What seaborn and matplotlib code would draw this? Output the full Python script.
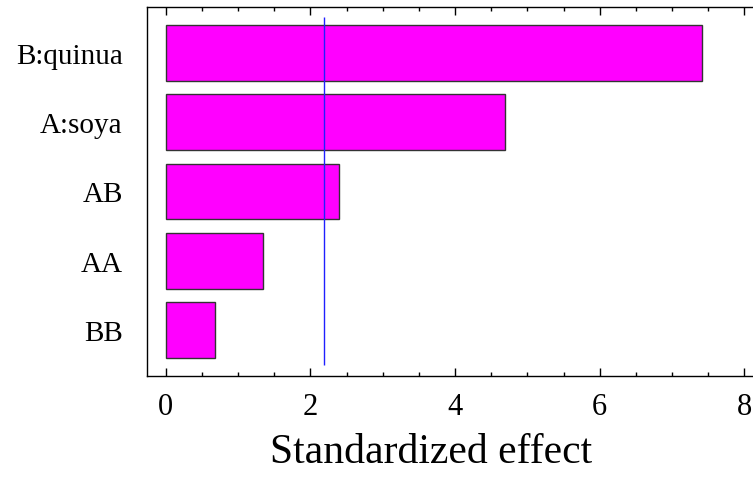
import matplotlib.pyplot as plt
import pandas as pd
import seaborn as sns
from matplotlib.ticker import MultipleLocator

terms = ["B:quinua", "A:soya", "AB", "AA", "BB"]
effects = [7.42, 4.69, 2.40, 1.34, 0.68]
critical_value = 2.19
x_ticks = [0, 2, 4, 6, 8]


def main():
    sns.set_style("white")
    plt.rcParams["font.family"] = ["Liberation Serif", "DejaVu Serif"]
    plt.rcParams["text.color"] = "black"
    plt.rcParams["axes.labelcolor"] = "black"
    plt.rcParams["xtick.color"] = "black"
    plt.rcParams["ytick.color"] = "black"

    df = pd.DataFrame({"Term": terms, "Effect": effects})

    fig = plt.figure(figsize=(7.53, 4.81), dpi=100)
    ax = fig.add_axes([147 / 753, 1 - 377 / 481, 1 - 147 / 753, (377 - 8) / 481])

    sns.barplot(
        data=df,
        x="Effect",
        y="Term",
        orient="h",
        color="#ff00ff",
        saturation=1,
        width=0.8,
        edgecolor="#333333",
        linewidth=1,
        ax=ax,
    )
    ax.vlines(critical_value, -0.52, 4.5, color="#2020ff", linewidth=1, zorder=3)

    ax.set_xlim(-0.26, 8.12)
    ax.set_ylim(4.66, -0.66)
    ax.set_xticks(x_ticks)
    ax.xaxis.set_minor_locator(MultipleLocator(0.5))
    ax.tick_params(axis="x", which="both", direction="in", top=True, bottom=True,
                   color="black", width=1)
    ax.tick_params(axis="x", which="major", length=6, labelsize=22, pad=11.5)
    ax.tick_params(axis="x", which="minor", length=3)
    ax.tick_params(axis="y", which="both", left=False, labelsize=21, pad=14)

    for side in ["left", "top", "bottom"]:
        ax.spines[side].set_visible(True)
        ax.spines[side].set_color("black")
        ax.spines[side].set_linewidth(1)
    ax.spines["right"].set_visible(False)

    ax.set_ylabel("")
    ax.set_xlabel("Standardized effect", fontsize=30)
    ax.xaxis.set_label_coords(0.469, -0.152)

    fig.savefig("out.png", dpi=100)
    plt.close(fig)


if __name__ == "__main__":
    main()
